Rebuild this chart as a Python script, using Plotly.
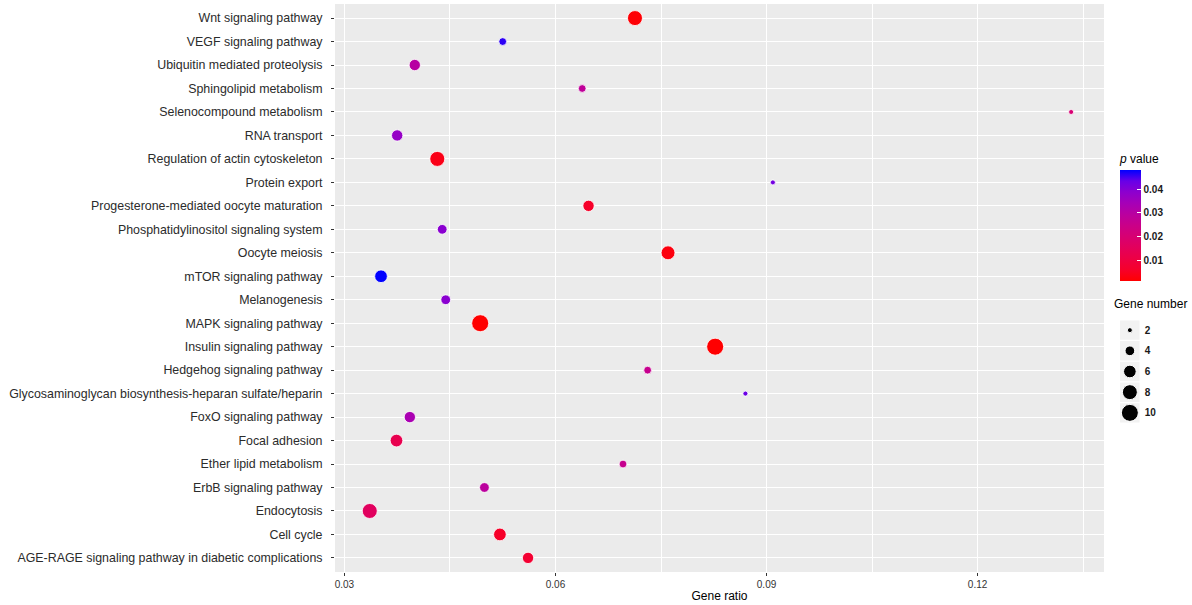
import numpy as np
import plotly.graph_objects as go

# KEGG pathways, top to bottom as drawn
pathways = [
    "Wnt signaling pathway",
    "VEGF signaling pathway",
    "Ubiquitin mediated proteolysis",
    "Sphingolipid metabolism",
    "Selenocompound metabolism",
    "RNA transport",
    "Regulation of actin cytoskeleton",
    "Protein export",
    "Progesterone-mediated oocyte maturation",
    "Phosphatidylinositol signaling system",
    "Oocyte meiosis",
    "mTOR signaling pathway",
    "Melanogenesis",
    "MAPK signaling pathway",
    "Insulin signaling pathway",
    "Hedgehog signaling pathway",
    "Glycosaminoglycan biosynthesis-heparan sulfate/heparin",
    "FoxO signaling pathway",
    "Focal adhesion",
    "Ether lipid metabolism",
    "ErbB signaling pathway",
    "Endocytosis",
    "Cell cycle",
    "AGE-RAGE signaling pathway in diabetic complications",
]
gene_ratio = [0.0713, 0.0525, 0.0400, 0.0638, 0.1333, 0.0375, 0.0432, 0.0909,
              0.0647, 0.0439, 0.0760, 0.0352, 0.0444, 0.0493, 0.0827, 0.0731,
              0.0870, 0.0393, 0.0374, 0.0696, 0.0499, 0.0336, 0.0521, 0.0561]
p_value = [0.0020, 0.0460, 0.0300, 0.0280, 0.0200, 0.0370, 0.0040, 0.0420,
           0.0060, 0.0390, 0.0030, 0.0480, 0.0390, 0.0014, 0.0015, 0.0260,
           0.0430, 0.0330, 0.0130, 0.0260, 0.0290, 0.0160, 0.0060, 0.0075]
gene_count = [8, 3, 5, 3, 2, 5, 8, 2, 5, 4, 7, 6, 4, 10, 10, 3,
              2, 5, 6, 3, 4, 8, 6, 5]

x_ticks = [0.03, 0.06, 0.09, 0.12]
x_minor = [0.045, 0.075, 0.105, 0.135]
p_ticks = [0.01, 0.02, 0.03, 0.04]
size_keys = [2, 4, 6, 8, 10]


# ggplot's gradient runs through Lab space, so build the scale that way
def to_lab(rgb):
    c = np.array(rgb) / 255.0
    c = np.where(c > 0.04045, ((c + 0.055) / 1.055) ** 2.4, c / 12.92)
    m = np.array([[0.4124, 0.3576, 0.1805],
                  [0.2126, 0.7152, 0.0722],
                  [0.0193, 0.1192, 0.9505]])
    xyz = m @ c / np.array([0.95047, 1.0, 1.08883])
    f = np.where(xyz > 0.008856, np.cbrt(xyz), 7.787 * xyz + 16 / 116)
    return np.array([116 * f[1] - 16, 500 * (f[0] - f[1]), 200 * (f[1] - f[2])])


def to_rgb(lab):
    fy = (lab[0] + 16) / 116
    f = np.array([fy + lab[1] / 500, fy, fy - lab[2] / 200])
    xyz = np.where(f ** 3 > 0.008856, f ** 3, (f - 16 / 116) / 7.787)
    xyz = xyz * np.array([0.95047, 1.0, 1.08883])
    m = np.array([[3.2406, -1.5372, -0.4986],
                  [-0.9689, 1.8758, 0.0415],
                  [0.0557, -0.2040, 1.0570]])
    c = np.clip(m @ xyz, 0, 1)
    c = np.where(c > 0.0031308, 1.055 * c ** (1 / 2.4) - 0.055, 12.92 * c)
    r, g, b = np.round(np.clip(c, 0, 1) * 255).astype(int)
    return f"rgb({r},{g},{b})"


lo, hi = to_lab((255, 0, 0)), to_lab((0, 0, 255))
colorscale = [[t, to_rgb(lo + (hi - lo) * t)] for t in np.linspace(0, 1, 11)]


def dot(n):
    return np.sqrt(30 * np.asarray(n, dtype=float) - 44) + 1


fig = go.Figure()

fig.add_trace(go.Scatter(
    x=gene_ratio, y=pathways, mode="markers", showlegend=False,
    marker=dict(
        size=dot(gene_count), color=p_value, colorscale=colorscale,
        cmin=min(p_value), cmax=max(p_value), opacity=1,
        line=dict(color="white", width=0.8),
        colorbar=dict(
            title=dict(text="<i>p</i> value", side="top",
                       font=dict(size=12, color="black")),
            x=0.916, xanchor="left", xpad=0,
            y=0.5123, yanchor="bottom", ypad=0,
            thickness=21, len=130, lenmode="pixels",
            outlinewidth=0, tickvals=p_ticks,
            ticks="inside", ticklen=4, tickcolor="white", tickwidth=1,
            tickfont=dict(size=10, color="#1a1a1a", weight="bold"),
        ),
    ),
))

# size legend drawn on its own small axes
fig.add_trace(go.Scatter(
    x=[0] * len(size_keys), y=[str(s) for s in size_keys],
    xaxis="x2", yaxis="y2", mode="markers", showlegend=False,
    hoverinfo="skip",
    marker=dict(size=dot(size_keys), color="black", opacity=1),
))

shapes = [dict(type="rect", xref="x domain", yref="y domain", x0=0, x1=1,
               y0=0, y1=1, fillcolor="#EBEBEB", line_width=0, layer="below")]
for i in range(len(size_keys)):
    shapes.append(dict(type="rect", xref="x2", yref="y2", x0=-1, x1=1,
                       y0=i - 0.47, y1=i + 0.47, fillcolor="#F2F2F2",
                       line_width=0, layer="below"))

fig.update_layout(
    width=1192, height=605,
    margin=dict(l=335, r=0, t=4, b=33, autoexpand=False),
    paper_bgcolor="white", plot_bgcolor="white",
    font=dict(family="Liberation Sans, Arial, sans-serif", color="#333333"),
    shapes=shapes,
    xaxis=dict(
        domain=[0, 0.8973], range=[0.02866, 0.13797], automargin=False,
        tickvals=x_ticks, ticktext=[str(v) for v in x_ticks],
        tickfont=dict(size=10, color="#333333"),
        ticks="outside", ticklen=3, tickcolor="#333333",
        showgrid=True, gridcolor="white", gridwidth=1.1,
        minor=dict(tickvals=x_minor, showgrid=True, gridcolor="white",
                   gridwidth=0.5, ticks=""),
        zeroline=False, showline=False,
        title=dict(text="Gene ratio", standoff=2,
                   font=dict(size=12, color="black")),
    ),
    yaxis=dict(
        type="category", categoryorder="array", categoryarray=pathways,
        range=[len(pathways) - 0.4, -0.6], automargin=False,
        tickfont=dict(size=12.4, color="#2b2b2b"), ticklabelstandoff=6,
        ticks="outside", ticklen=3, tickcolor="#333333",
        showgrid=True, gridcolor="white", gridwidth=1.1,
        zeroline=False, showline=False,
    ),
    xaxis2=dict(domain=[0.916, 0.939], range=[-1, 1], visible=False,
                anchor="y2", automargin=False),
    yaxis2=dict(domain=[0.262, 0.444], anchor="x2", type="category",
                range=[len(size_keys) - 0.5, -0.5], side="right",
                showgrid=False, zeroline=False, ticks="", automargin=False,
                ticklabelstandoff=4,
                tickfont=dict(size=10, color="#1a1a1a", weight="bold")),
    annotations=[dict(text="Gene number", xref="paper", yref="paper",
                      x=0.9067, y=0.472, xanchor="left", yanchor="middle",
                      showarrow=False, font=dict(size=12, color="black"))],
)

# drop the page's default body margin so the figure sits at the top-left
fig.write_html("out.html", config={"displayModeBar": False},
               post_script="document.body.style.margin='0px';")
